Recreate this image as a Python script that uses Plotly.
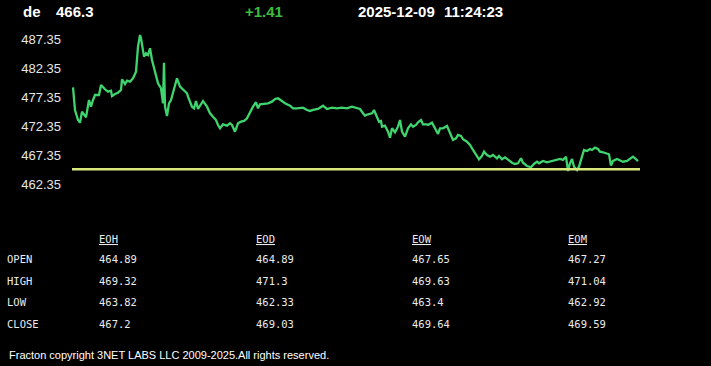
import plotly.graph_objects as go

# ---- data ----
minutes = [1, 2, 3, 6, 8, 10, 12, 14, 17, 19, 21, 23, 27, 29, 33, 36, 39, 40, 43, 46,
           49, 50, 53, 55, 58, 61, 64, 66, 68, 69, 72, 74, 76, 78, 80, 83, 86, 89, 91, 92,
           93, 95, 97, 99, 102, 105, 108, 111, 115, 116, 120, 122, 124, 126, 129, 131, 135, 138, 141, 144,
           146, 148, 151, 155, 158, 160, 163, 166, 169, 172, 175, 178, 181, 184, 186, 188, 191, 196, 200, 203,
           206, 210, 213, 218, 221, 225, 228, 231, 235, 238, 241, 246, 251, 255, 260, 265, 270, 275, 280, 285,
           288, 291, 293, 296, 300, 302, 305, 307, 309, 310, 313, 316, 318, 320, 323, 326, 328, 330, 333, 336,
           339, 341, 344, 346, 349, 351, 355, 356, 360, 363, 366, 368, 371, 375, 378, 381, 384, 386, 389, 391,
           395, 398, 401, 405, 407, 410, 412, 415, 418, 421, 425, 427, 430, 433, 436, 440, 443, 446, 449, 451,
           455, 459, 462, 465, 467, 471, 475, 480, 485, 488, 491, 494, 496, 498, 500, 502, 505, 507, 510, 512,
           515, 518, 520, 523, 526, 528, 531, 535, 537, 539, 541, 545, 548, 551, 555, 558, 561, 563, 566]
prices = [479.02, 476.54, 475.11, 473.38, 472.92, 474.82, 474.25, 473.85, 476.83, 475.68,
          476.83, 477.69, 477.69, 479.42, 478.68, 478.26, 478.44, 477.52, 477.87, 478.09,
          478.56, 480.40, 479.59, 480.16, 479.99, 480.57, 481.71, 486.02, 488.04, 487.47,
          484.30, 484.88, 484.59, 485.75, 483.73, 481.44, 479.71, 478.85, 476.26, 483.26,
          475.68, 474.07, 476.26, 476.83, 478.56, 480.57, 479.13, 478.68, 477.99, 477.40,
          475.68, 475.40, 476.66, 475.28, 476.26, 476.66, 475.68, 474.54, 473.95, 473.38,
          472.52, 471.95, 472.64, 472.40, 472.82, 472.52, 471.37, 472.82, 473.09, 473.21,
          473.68, 474.82, 475.68, 476.44, 475.40, 476.09, 476.14, 476.26, 476.54, 477.01,
          477.13, 476.54, 476.26, 475.85, 475.40, 475.40, 475.40, 475.51, 475.11, 474.94,
          475.11, 475.28, 475.85, 475.28, 475.51, 475.40, 475.51, 475.40, 475.68, 475.51,
          475.28, 474.54, 474.13, 474.37, 474.54, 475.11, 473.95, 473.09, 473.21, 472.23,
          472.40, 471.37, 470.33, 471.95, 471.26, 472.23, 473.38, 471.37, 470.51, 471.95,
          472.64, 472.23, 472.52, 472.99, 473.38, 472.64, 472.64, 472.52, 472.92, 471.95,
          470.97, 471.95, 471.95, 472.35, 471.09, 469.94, 470.23, 470.80, 470.63, 470.06,
          469.64, 469.07, 468.21, 467.06, 466.61, 467.18, 467.92, 467.35, 467.06, 467.35,
          466.78, 467.18, 466.61, 466.95, 466.49, 466.02, 465.80, 465.92, 466.78, 466.02,
          465.45, 465.23, 465.80, 466.19, 465.92, 466.32, 466.09, 466.32, 466.49, 466.66,
          466.49, 467.06, 464.59, 465.92, 466.66, 465.33, 464.76, 465.33, 467.06, 468.21,
          468.04, 468.38, 468.21, 468.61, 468.38, 467.92, 467.82, 467.64, 467.47, 465.51,
          466.32, 466.66, 466.49, 466.19, 466.32, 466.66, 467.06, 466.78, 466.30]

y_ticks = [462.35, 467.35, 472.35, 477.35, 482.35, 487.35]

symbol = "de"
last_price = "466.3"
change = "+1.41"
date_str = "2025-12-09"
time_str = "11:24:23"

periods = ["EOH", "EOD", "EOW", "EOM"]
row_names = ["OPEN", "HIGH", "LOW", "CLOSE"]
open_vals = ["464.89", "464.89", "467.65", "467.27"]
high_vals = ["469.32", "471.3", "469.63", "471.04"]
low_vals = ["463.82", "462.33", "463.4", "462.92"]
close_vals = ["467.2", "469.03", "469.64", "469.59"]
reference_level = 464.89
footer = "Fracton copyright 3NET LABS LLC 2009-2025.All rights reserved."

# ---- layout geometry (pixels) ----
W, H = 711, 366
PL, PR, PT, PB = 72, 640, 30, 190


def px(x):
    return (x - PL) / (PR - PL)


def py(y):
    return (PB - y) / (PB - PT)


fig = go.Figure()
fig.add_trace(go.Scatter(x=minutes, y=prices, mode="lines",
                         line=dict(color="#3fd46e", width=2.3), hoverinfo="skip"))
fig.add_hline(y=reference_level, line=dict(color="#d9e87a", width=2.5))

fig.update_layout(
    width=W, height=H,
    paper_bgcolor="black", plot_bgcolor="black",
    margin=dict(l=PL, r=W - PR, t=PT, b=H - PB, pad=0),
    showlegend=False,
    xaxis=dict(range=[0, 568], visible=False),
    yaxis=dict(range=[461.31, 488.90], tickvals=y_ticks,
               ticktext=["%.2f" % v for v in y_ticks],
               showgrid=False, zeroline=False, showline=False, ticks="",
               ticklabelstandoff=10,
               tickfont=dict(family="Liberation Sans, Arial", size=13, color="#e6e6e6")),
)

hdr_font = dict(family="Liberation Sans, Arial", size=15, color="white")
annots = []


def add(text, x, y, font, xanchor="left"):
    annots.append(dict(text=text, x=px(x), y=py(y), xref="paper", yref="paper",
                       xanchor=xanchor, yanchor="middle", showarrow=False,
                       font=font, borderpad=0))


add("<b>%s</b>" % symbol, 22, 11, hdr_font)
add("<b>%s</b>" % last_price, 55, 11, hdr_font)
add("<b>%s</b>" % change, 244, 11, dict(hdr_font, color="#3cbc3c"))
add("<b>%s</b>" % date_str, 357, 11, hdr_font)
add("<b>%s</b>" % time_str, 443, 11, hdr_font)

mono = dict(family="DejaVu Sans Mono", size=10.5, color="#ececec")
col_x = [98, 255, 411, 567]
row_y = [259, 281, 302, 324]
for cx, p in zip(col_x, periods):
    add("<u>%s</u>" % p, cx, 239, mono)
for ry, name in zip(row_y, row_names):
    add(name, 6, ry, mono)
for vals, ry in zip([open_vals, high_vals, low_vals, close_vals], row_y):
    for cx, v in zip(col_x, vals):
        add(v, cx, ry, mono)

add(footer, 8, 355, dict(family="Liberation Sans, Arial", size=11, color="white"))

fig.update_layout(annotations=annots)
fig.write_html("out.html", config={"displayModeBar": False},
               post_script="document.body.style.margin='0px';")
